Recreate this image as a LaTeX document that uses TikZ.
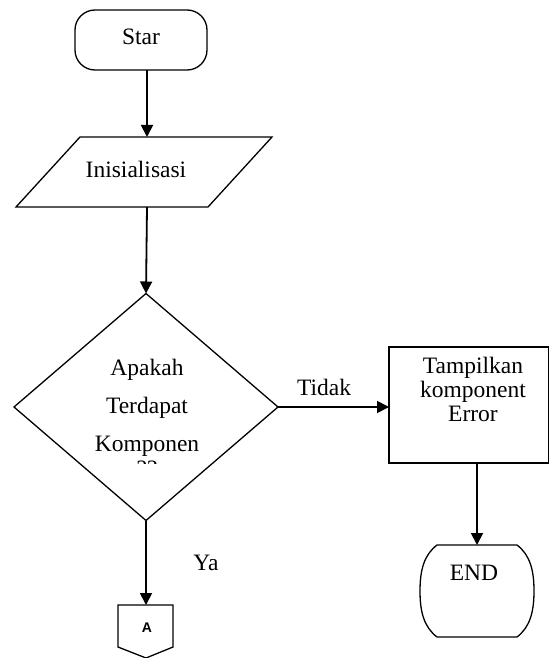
\documentclass[tikz,border=0pt]{standalone}
\usepackage{fontspec}
\setmainfont{Liberation Serif}
\newfontfamily\arialfont{Liberation Sans}
\usetikzlibrary{shapes.geometric,arrows.meta}
\begin{document}
\begin{tikzpicture}[x=1pt,y=-1pt,
  line width=1.3pt,
  every node/.style={inner sep=0pt, outer sep=0pt},
  arr/.style={-{Triangle[length=12pt,width=12pt]}, line width=1.8pt},
  txt/.style={font=\fontsize{23.5}{24}\selectfont, anchor=base},
  shp/.style={draw, line width=1.3pt},
]
\useasboundingbox (0,0) rectangle (550,658);
% Start
\node[shp, rounded corners=20pt, minimum width=132pt, minimum height=60pt] (start) at (141,40) {};
\node[txt] (startt) at (141,45) {Star};
% Inisialisasi (parallelogram)
\coordinate (initT) at (147,137);
\coordinate (initB) at (147,207);
\draw[shp] (80,137) -- (272,137) -- (208,207) -- (16,207) -- cycle;
\node[txt] (initt) at (136,177) {Inisialisasi};
% Decision
\node[shp, diamond, aspect=1.163, minimum width=264pt, minimum height=227pt] (dec) at (146,407) {};
\node[txt] (d1) at (147,375) {Apakah};
\node[txt] (d2) at (147,413) {Terdapat};
\node[txt] (d3) at (147,451) {Komponen};
\begin{scope}
  \clip (120,455) rectangle (175,463.5);
  \node[txt] (d4) at (147,476) {??};
\end{scope}
% Error box
\node[shp, minimum width=159.5pt, minimum height=116pt] (err) at (468.75,405) {};
\node[txt] (e1) at (473,373) {Tampilkan};
\node[txt] (e2) at (473,397) {komponent};
\node[txt] (e3) at (473,421) {Error};
% END
\node[minimum width=114pt, minimum height=92pt] (endn) at (477,591) {};
\draw[shp] (437,545) -- (517,545) .. controls (530,555) and (534,570) .. (534,591)
  .. controls (534,612) and (530,627) .. (517,637) -- (437,637)
  .. controls (424,627) and (420,612) .. (420,591)
  .. controls (420,570) and (424,555) .. (437,545) -- cycle;
\node[txt] (endt) at (474,580) {END};
% Off-page connector A
\coordinate (offT) at (146,605);
\draw[shp] (118,605) -- (173,605) -- (173,647) -- (146,658) -- (118,647) -- cycle;
\node[anchor=base, font=\arialfont\bfseries\fontsize{14}{14}\selectfont] (offt) at (147,632) {A};
% Labels
\node[txt] (tidak) at (324,395) {Tidak};
\node[txt] (ya) at (206,570) {Ya};
% Connectors
\draw[arr] ([xshift=6pt]start.south) -- (initT);
\draw[arr] (initB) -- (dec.north);
\draw[arr] (dec.east) -- (dec.east -| err.west);
\draw[arr] (endn.north |- err.south) -- (endn.north);
\draw[arr] (dec.south) -- (offT);
\end{tikzpicture}
\end{document}
